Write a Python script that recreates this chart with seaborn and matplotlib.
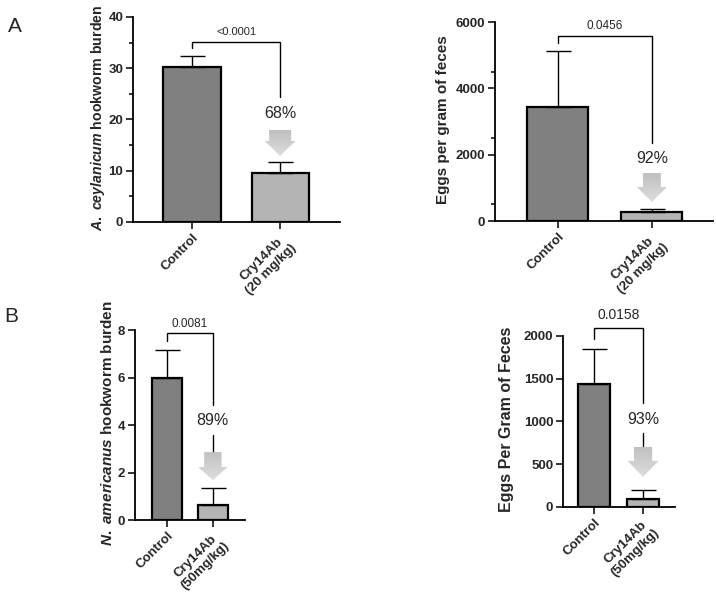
import numpy as np
import pandas as pd
import matplotlib
matplotlib.use("Agg")
import matplotlib.pyplot as plt
import matplotlib.patches as mpatches
import seaborn as sns

sns.set_style("ticks")
plt.rcParams['font.family'] = ['Liberation Sans', 'DejaVu Sans']
plt.rcParams['mathtext.fontset'] = 'custom'
plt.rcParams['mathtext.rm'] = 'Liberation Sans:bold'
plt.rcParams['mathtext.it'] = 'Liberation Sans:italic:bold'
plt.rcParams['mathtext.bf'] = 'Liberation Sans:bold'

# data
groups_a = ["Control", "Cry14Ab\n(20 mg/kg)"]
groups_b = ["Control", "Cry14Ab\n(50mg/kg)"]

burden_a = [30.3, 9.6]
burden_a_err = [2.15, 2.15]
epg_a = [3450, 270]
epg_a_err = [1675, 80]

burden_b = [6.0, 0.64]
burden_b_err = [1.16, 0.69]
epg_b = [1440, 95]
epg_b_err = [410, 100]

pvals = ["<0.0001", "0.0456", "0.0081", "0.0158"]
reductions = ["68%", "92%", "89%", "93%"]

ylabels = [r"$\mathit{A.\ ceylanicum}$ hookworm burden",
           "Eggs per gram of feces",
           r"$\mathit{N.\ americanus}$ hookworm burden",
           "Eggs Per Gram of Feces"]

dark = "#808080"
light = "#b4b4b4"

fig = plt.figure(figsize=(7.16, 5.98), dpi=100)


def draw_panel(rect, groups, means, errs, ylabel, ylfs, ymax, major, minor, xlim,
               label_x, bracket, ptext_y, pval, pfs, pct, pct_y, stem, arrow):
    ax = fig.add_axes(rect)
    df = pd.DataFrame({"group": groups, "value": means})
    sns.barplot(data=df, x="group", y="value", hue="group", palette=[dark, light],
                width=0.65, edgecolor="black", linewidth=1.6, errorbar=None,
                legend=False, ax=ax)
    ax.errorbar([0, 1], means, yerr=[np.zeros(2), errs], fmt="none", ecolor="black",
                elinewidth=1, capsize=9, capthick=1)

    # significance bracket
    left_end, top, right_end = bracket
    ax.plot([0, 0, 1, 1], [left_end, top, top, right_end], color="black", lw=1,
            clip_on=False, solid_joinstyle="miter")
    ax.text(0.5, ptext_y, pval, ha="center", va="center", fontsize=pfs)
    ax.text(1, pct_y, pct, ha="center", va="center", fontsize=11.5)
    if stem is not None:
        ax.plot([1, 1], stem, color="black", lw=1)

    # grey reduction arrow with a soft gradient
    a_top, a_tip, head_len, shaft_w, head_w = arrow
    arr = mpatches.FancyArrow(1, a_top, 0, -(a_top - a_tip), width=shaft_w,
                              head_width=head_w, head_length=head_len,
                              length_includes_head=True, facecolor="none",
                              edgecolor="none")
    ax.add_patch(arr)
    grad = np.linspace(0.75, 0.87, 50).reshape(-1, 1)
    im = ax.imshow(np.dstack([grad, grad, grad]), extent=[1 - head_w, 1 + head_w, a_tip, a_top],
                   aspect="auto", origin="upper", zorder=3)
    im.set_clip_path(arr)

    ax.set_xlim(*xlim)
    ax.set_ylim(0, ymax)
    ax.set_yticks(np.arange(0, ymax + 1e-9, major))
    if minor:
        ax.set_yticks(np.arange(minor, ymax, major), minor=True)
    ax.tick_params(axis="both", which="major", length=5, width=1.3, labelsize=9.5, pad=2)
    ax.tick_params(axis="y", which="minor", length=3, width=1.3)
    for lab in ax.get_yticklabels():
        lab.set_fontweight("bold")
    ax.set_xticks([0, 1])
    ax.set_xticklabels(groups, rotation=45, ha="right", rotation_mode="anchor",
                       fontweight="bold", fontsize=9.5, multialignment="center")
    ax.set_xlabel("")
    ax.set_ylabel(ylabel, fontsize=ylfs, fontweight="bold")
    ax.yaxis.set_label_coords(label_x, 0.51)
    for s in ["left", "bottom"]:
        ax.spines[s].set_linewidth(1.3)
        ax.spines[s].set_color("black")
    sns.despine(ax=ax)
    return ax


draw_panel([0.1858, 0.6288, 0.2891, 0.3428], groups_a, burden_a, burden_a_err, ylabels[0], 10.2,
           40, 10, 5, (-0.67, 1.68), -0.125,
           (33.9, 35.2, 24.4), 37.1, pvals[0], 8, reductions[0], 21.2, None,
           (17.95, 12.9, 2.9, 0.25, 0.35))

draw_panel([0.6913, 0.6304, 0.3045, 0.3328], groups_a, epg_a, epg_a_err, ylabels[1], 11,
           6000, 2000, 500, (-0.67, 1.65), -0.206,
           (5366, 5577, 2350), 5879, pvals[1], 8.5, reductions[1], 1870, None,
           (1447, 573, 452, 0.19, 0.32))

draw_panel([0.1885, 0.1304, 0.1536, 0.3177], groups_b, burden_b, burden_b_err, ylabels[2], 11,
           8, 2, None, (-0.70, 1.70), -0.18,
           (7.55, 7.86, 4.84), 8.25, pvals[2], 8.5, reductions[2], 4.21, (3.58, 2.86),
           (2.86, 1.68, 0.55, 0.38, 0.64))

draw_panel([0.7863, 0.1522, 0.1564, 0.2860], groups_b, epg_b, epg_b_err, ylabels[3], 11.5,
           2000, 500, None, (-0.63, 1.65), -0.4375,
           (1965, 2094, 1216), 2245, pvals[3], 10, reductions[3], 1018, (865, 702),
           (702, 351, 187, 0.37, 0.63))

fig.text(15 / 716, 1 - 26 / 598, "A", fontsize=15, ha="center", va="center")
fig.text(11 / 716, 1 - 316 / 598, "B", fontsize=15, ha="center", va="center")

fig.savefig("out.png", dpi=100)
